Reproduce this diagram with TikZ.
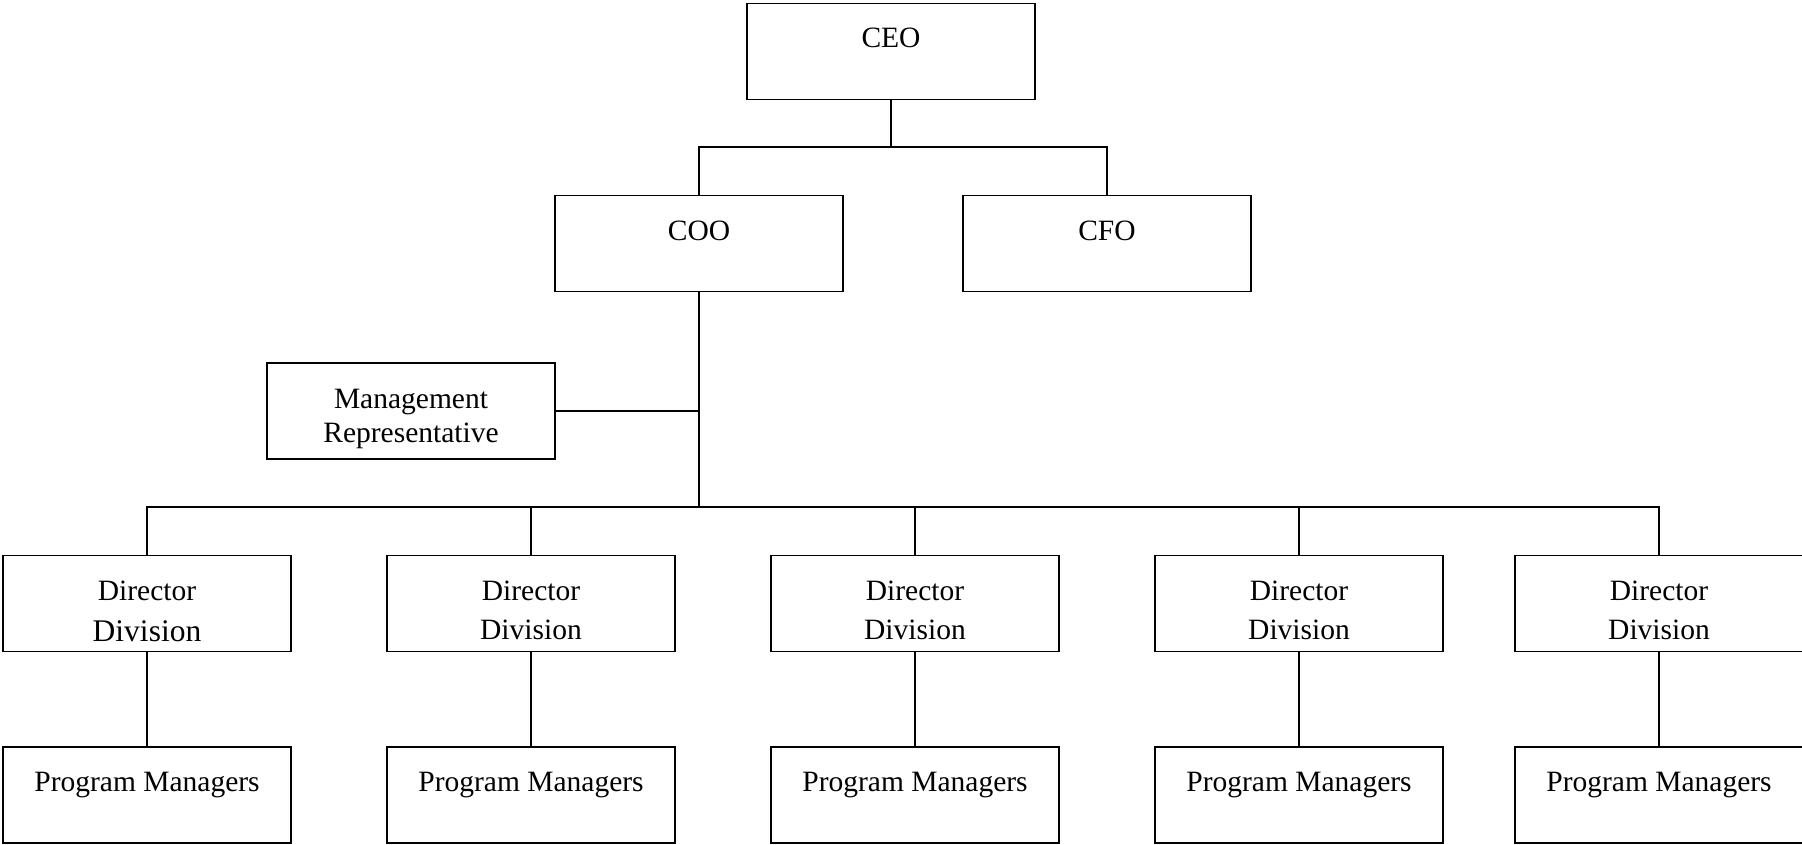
\documentclass[tikz,border=0pt]{standalone}
\usepackage{fontspec}
\setmainfont{Liberation Serif}
\begin{document}
\begin{tikzpicture}[x=1pt,y=-1pt,
  box/.style={draw,line width=1.3pt,minimum width=288pt,minimum height=96pt,inner sep=0pt},
  lbl/.style={anchor=base,inner sep=0pt,font=\fontsize{29.5}{34}\selectfont},
  biglbl/.style={anchor=base,inner sep=0pt,font=\fontsize{31.5}{36}\selectfont},
  conn/.style={line width=1.3pt}]
\useasboundingbox (0,0) rectangle (1802,844);
\coordinate (tb) at (0,147);
\coordinate (bb) at (0,507);
% top boxes
\node[box] (ceo) at (891,51.5) {};
\node[lbl] (ceot) at (891,47.7) {CEO};
\node[box] (coo) at (699,243.5) {};
\node[lbl] (coot) at (699,240.5) {COO};
\node[box] (cfo) at (1107,243.5) {};
\node[lbl] (cfot) at (1107,240.5) {CFO};
\node[box] (mr) at (411,411) {};
\node[lbl] (mrt1) at (411,408) {Management};
\node[lbl] (mrt2) at (411,442) {Representative};
% directors and program managers
\foreach \i/\x in {1/147,2/531,3/915,4/1299,5/1659}{
  \node[box] (d\i) at (\x,603.5) {};
  \node[lbl] (d\i a) at (\x,600.5) {Director};
  \node[box] (p\i) at (\x,795) {};
  \node[lbl] (p\i t) at (\x,791.5) {Program Managers};
  \draw[conn] (d\i.south) -- (p\i.north);
}
\foreach \i/\x in {2/531,3/915,4/1299,5/1659}{
  \node[lbl] (d\i b) at (\x,639.5) {Division};
}
\node[biglbl] (d1b) at (147,641) {Division};
% connectors
\draw[conn] (ceo.south) -- (ceo.south |- tb);
\draw[conn] (coo.north) |- (cfo.north |- tb) -- (cfo.north);
\draw[conn] (coo.south) -- (coo.south |- bb);
\draw[conn] (mr.east) -- (mr.east -| coo.south);
\draw[conn] (d1.north) |- (d5.north |- bb) -- (d5.north);
\draw[conn] (d2.north) -- (d2.north |- bb);
\draw[conn] (d3.north) -- (d3.north |- bb);
\draw[conn] (d4.north) -- (d4.north |- bb);
\end{tikzpicture}
\end{document}
